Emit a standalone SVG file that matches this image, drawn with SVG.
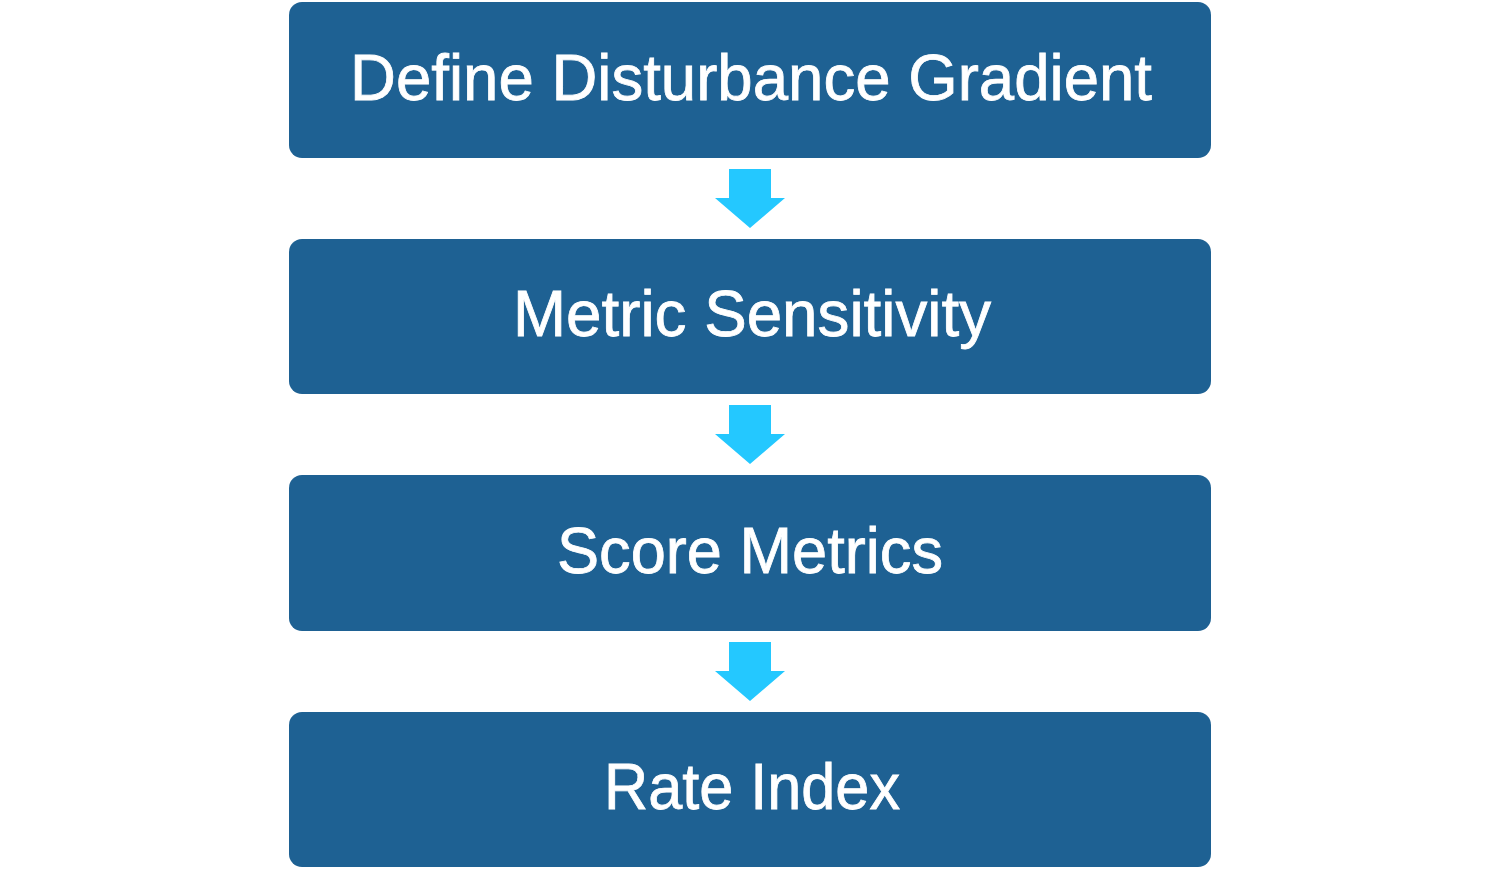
<svg xmlns="http://www.w3.org/2000/svg" width="1500" height="869" viewBox="0 0 1500 869">
<style>
.box{fill:#1E6193}
.lbl{fill:#ffffff;stroke:#ffffff;stroke-width:0.8;font-family:"Liberation Sans",Arial,sans-serif;font-size:65px;text-anchor:middle}
.arr{fill:#24C8FF}
</style>
<rect width="1500" height="869" fill="#ffffff"/>
<g id="node1"><rect class="box" x="289" y="2" width="922" height="156" rx="13"/><text class="lbl" x="751" y="100" textLength="802" lengthAdjust="spacingAndGlyphs">Define Disturbance Gradient</text></g>
<g id="node2"><rect class="box" x="289" y="239" width="922" height="155" rx="13"/><text class="lbl" x="752" y="336" textLength="478" lengthAdjust="spacingAndGlyphs">Metric Sensitivity</text></g>
<g id="node3"><rect class="box" x="289" y="475" width="922" height="156" rx="13"/><text class="lbl" x="750" y="573" textLength="386" lengthAdjust="spacingAndGlyphs">Score Metrics</text></g>
<g id="node4"><rect class="box" x="289" y="712" width="922" height="155" rx="13"/><text class="lbl" x="752" y="809" textLength="296" lengthAdjust="spacingAndGlyphs">Rate Index</text></g>
<g id="connectors">
<polygon class="arr" points="729,169 771,169 771,198 785,198 750,228 715,198 729,198"/>
<polygon class="arr" points="729,405 771,405 771,434 785,434 750,464 715,434 729,434"/>
<polygon class="arr" points="729,642 771,642 771,671 785,671 750,701 715,671 729,671"/>
</g>
</svg>
